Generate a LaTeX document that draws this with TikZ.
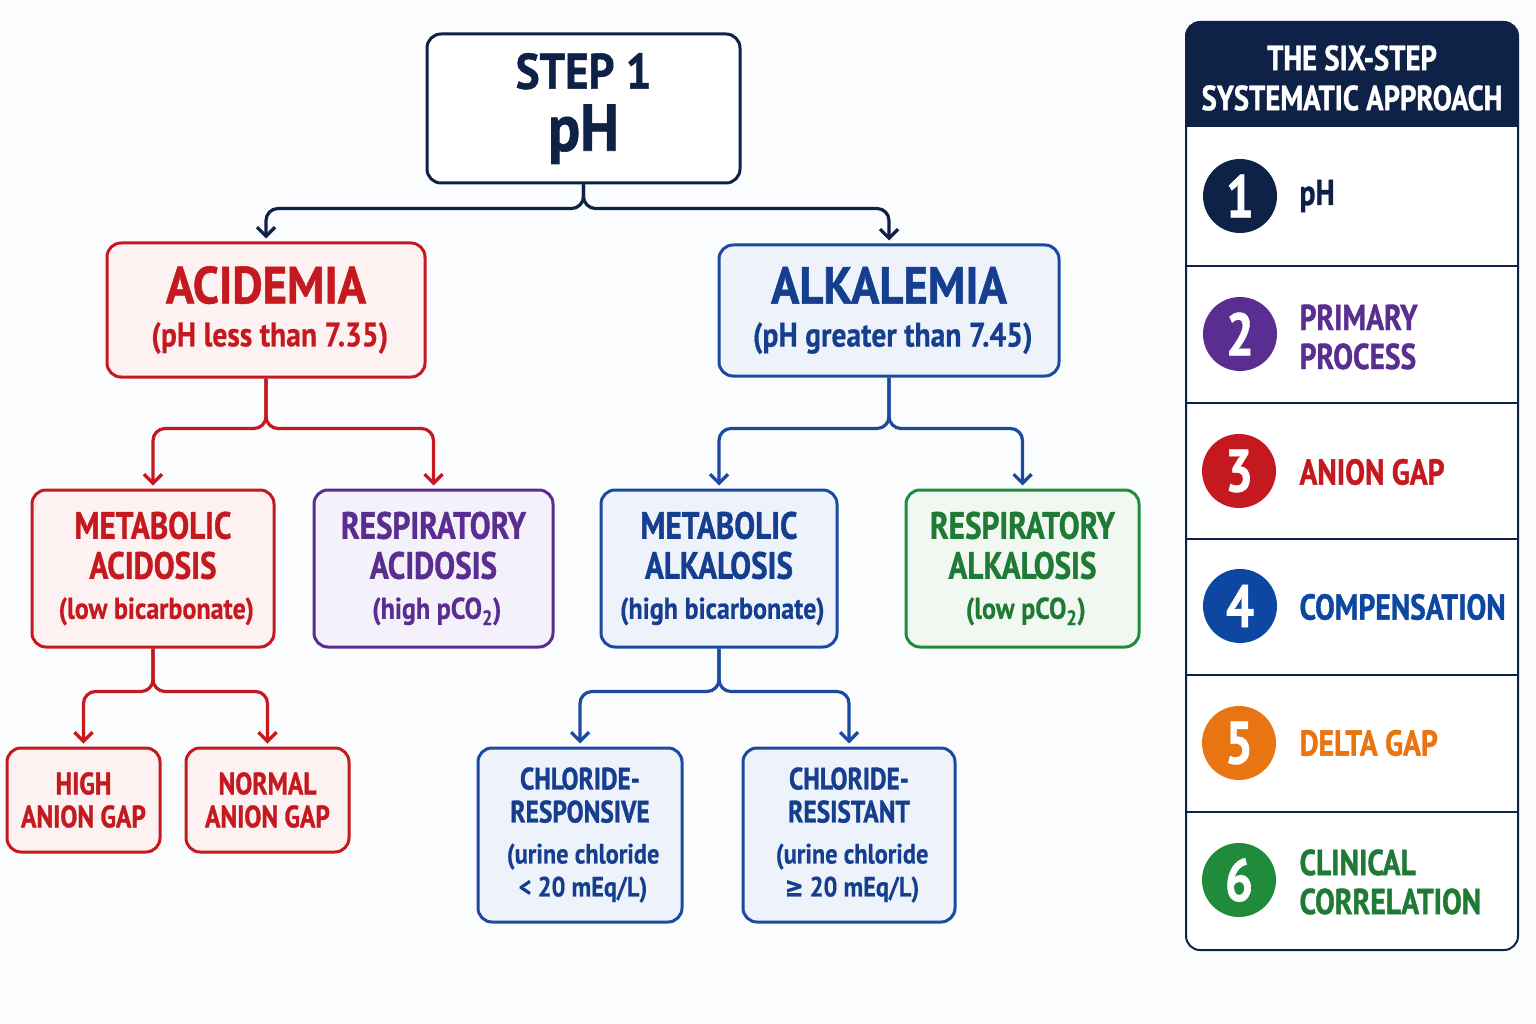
\documentclass[tikz,border=0pt]{standalone}
\usepackage{fontspec}
\setmainfont{PT Sans}[FakeStretch=0.82, BoldFeatures={FakeBold=1.0}]
\newfontfamily\tfw{PT Sans}[FakeStretch=0.9, BoldFeatures={FakeBold=1.0}]
\newfontfamily\medf{PT Sans}[FakeStretch=0.87, FakeBold=0.45]
\newfontfamily\symfont{DejaVu Sans}[FakeStretch=0.8, FakeBold=0.45]
\usetikzlibrary{arrows.meta}
\definecolor{navy}{HTML}{0E2248}
\definecolor{cred}{HTML}{C41A1F}
\definecolor{credf}{HTML}{FDF1F1}
\definecolor{cblue}{HTML}{1B4A9E}
\definecolor{cbluet}{HTML}{153F8E}
\definecolor{cbluef}{HTML}{EEF3FB}
\definecolor{cpurp}{HTML}{5A2D91}
\definecolor{cpurpf}{HTML}{F4F1FA}
\definecolor{cgreen}{HTML}{1F8B3B}
\definecolor{cgreent}{HTML}{1E7A34}
\definecolor{cgreenf}{HTML}{F1F8F2}
\definecolor{corange}{HTML}{E87511}
\definecolor{cblue4}{HTML}{0D47A1}
\definecolor{bgc}{HTML}{FBFCFD}
\newcommand\fsz[2]{\fontsize{#1}{#2}\selectfont}
\tikzset{
  box/.style={draw, line width=3pt, rounded corners=14pt, align=center, inner sep=0pt},
  redbox/.style={box, draw=cred, fill=credf, text=cred},
  bluebox/.style={box, draw=cblue, fill=cbluef, text=cbluet},
  purpbox/.style={box, draw=cpurp, fill=cpurpf, text=cpurp},
  greenbox/.style={box, draw=cgreen, fill=cgreenf, text=cgreent},
  bigfont/.style={font=\tfw\fsz{52}{50}\bfseries},
  midfont/.style={font=\fsz{38}{40}\bfseries},
  smallfont/.style={font=\fsz{31}{33}\bfseries},
  conn/.style={line width=3.2pt, rounded corners=12pt, -{Straight Barb[length=9pt,width=18pt]}, shorten >=3pt},
  numc/.style={circle, minimum size=74pt, inner sep=0pt, text=white, font=\fsz{60}{60}\bfseries},
  steplbl/.style={anchor=west, align=left, font=\fsz{36}{39}\bfseries},
  hdr/.style={align=center, text=white, font=\fsz{35}{40}\bfseries}
}
\begin{document}
\begin{tikzpicture}[x=1pt,y=-1pt]
\fill[bgc] (0,0) rectangle (1536,1024);
\useasboundingbox (0,0) rectangle (1536,1024);

% main tree
\node[box, draw=navy, fill=white, text=navy, minimum width=313, minimum height=149,
      font=\tfw\fsz{50}{54}\bfseries] (step) at (583.5,108.5)
  {STEP 1\\[8pt]{\fsz{66}{62}\selectfont pH}};

\node[redbox, bigfont, minimum width=318, minimum height=134] (acid) at (266,310)
  {ACIDEMIA\\[-7pt]{\medf\fsz{34}{36} (pH less than 7.35)}};
\node[bluebox, bigfont, minimum width=340, minimum height=131] (alk) at (889,310.5)
  {ALKALEMIA\\[-7pt]{\medf\fsz{34}{36} (pH greater than 7.45)}};

\node[redbox, midfont, minimum width=242, minimum height=157] (macid) at (153,568.5)
  {METABOLIC\\ACIDOSIS\\{\medf\fsz{30}{40} (low bicarbonate)}};
\node[purpbox, midfont, minimum width=239, minimum height=157] (racid) at (433.5,568.5)
  {RESPIRATORY\\ACIDOSIS\\{\medf\fsz{30}{40} (high pCO\textsubscript{2})}};
\node[bluebox, midfont, minimum width=236, minimum height=157] (malk) at (719,568.5)
  {METABOLIC\\ALKALOSIS\\{\medf\fsz{30}{40} (high bicarbonate)}};
\node[greenbox, midfont, minimum width=233, minimum height=157] (ralk) at (1022.5,568.5)
  {RESPIRATORY\\ALKALOSIS\\{\medf\fsz{30}{40} (low pCO\textsubscript{2})}};

\node[redbox, smallfont, minimum width=153, minimum height=104] (hag) at (83.5,800)
  {HIGH\\ANION GAP};
\node[redbox, smallfont, minimum width=163, minimum height=104] (nag) at (267.5,800)
  {NORMAL\\ANION GAP};

\node[bluebox, smallfont, minimum width=204, minimum height=174] (clresp) at (580,835)
  {CHLORIDE-\\RESPONSIVE\\[8pt]{\medf\fsz{28}{33} (urine chloride}\\{\medf\fsz{28}{33} {<} 20 mEq/L)}};
\node[bluebox, smallfont, minimum width=212, minimum height=174] (clres) at (849,835)
  {CHLORIDE-\\RESISTANT\\[8pt]{\medf\fsz{28}{33} (urine chloride}\\{\medf\fsz{28}{33} {\symfont ≥} 20 mEq/L)}};

% connectors
\draw[conn, draw=navy] (step.south) -- ++(0,24) -| (acid.north);
\draw[conn, draw=navy] (step.south) -- ++(0,24) -| (alk.north);
\draw[conn, draw=cred] (acid.south) -- ++(0,50) -| (macid.north);
\draw[conn, draw=cred] (acid.south) -- ++(0,50) -| (racid.north);
\draw[conn, draw=cblue] (alk.south) -- ++(0,51) -| (malk.north);
\draw[conn, draw=cblue] (alk.south) -- ++(0,51) -| (ralk.north);
\draw[conn, draw=cred] (macid.south) -- ++(0,43) -| (hag.north);
\draw[conn, draw=cred] (macid.south) -- ++(0,43) -| (nag.north);
\draw[conn, draw=cblue] (malk.south) -- ++(0,43) -| (clresp.north);
\draw[conn, draw=cblue] (malk.south) -- ++(0,43) -| (clres.north);

% right panel
\draw[navy, line width=2pt, fill=white, rounded corners=14pt] (1186,22) rectangle (1518,950);
\fill[navy] (1186,127) [rounded corners=14pt] -- (1186,22) -- (1518,22) [sharp corners] -- (1518,127) -- cycle;
\foreach \yy in {266,403,539,675,812}
  \draw[navy, line width=1.6pt] (1186,\yy) -- (1518,\yy);
\node[hdr] (hdr) at (1352,78) {THE SIX-STEP\\SYSTEMATIC APPROACH};

\node[numc, fill=navy] (n1) at (1240,196) {1};
\node[steplbl, text=navy] (l1) at (1296,196) {pH};
\node[numc, fill=cpurp] (n2) at (1240,334) {2};
\node[steplbl, text=cpurp] (l2) at (1296,337) {PRIMARY\\PROCESS};
\node[numc, fill=cred] (n3) at (1239,471) {3};
\node[steplbl, text=cred] (l3) at (1296,472) {ANION GAP};
\node[numc, fill=cblue4] (n4) at (1240,606) {4};
\node[steplbl, text=cblue4] (l4) at (1296,607) {COMPENSATION};
\node[numc, fill=corange] (n5) at (1239,743) {5};
\node[steplbl, text=corange] (l5) at (1296,743) {DELTA GAP};
\node[numc, fill=cgreen] (n6) at (1239,880) {6};
\node[steplbl, text=cgreent] (l6) at (1296,882) {CLINICAL\\CORRELATION};
\end{tikzpicture}
\end{document}
